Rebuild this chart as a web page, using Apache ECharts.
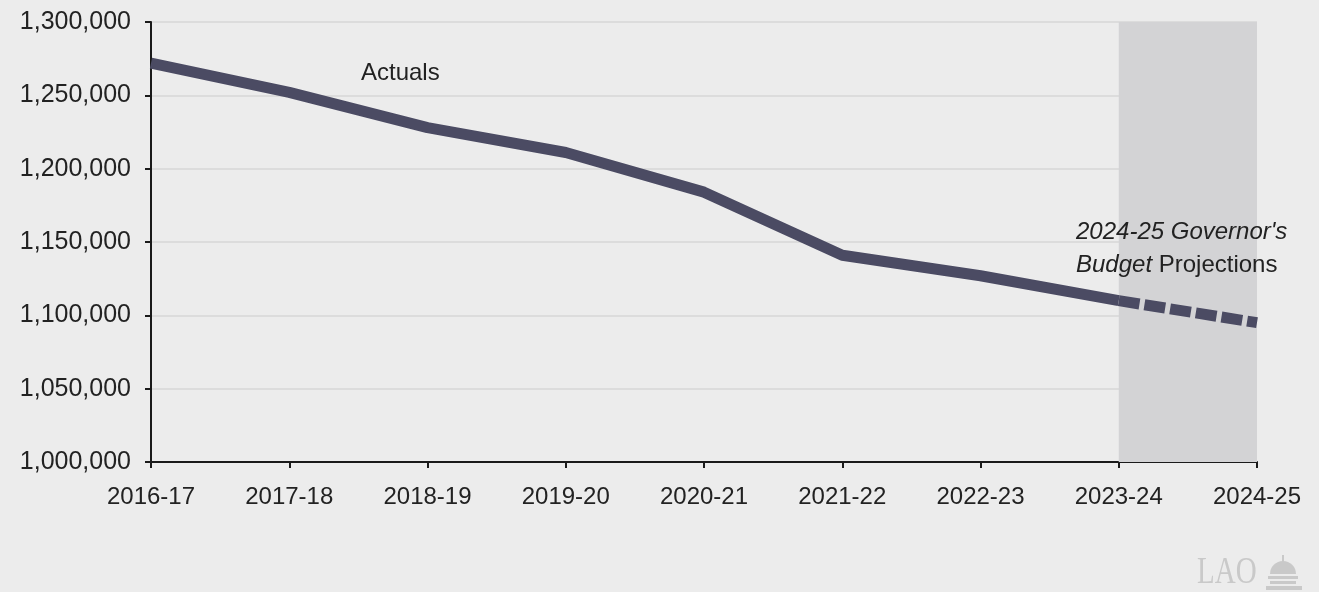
<!DOCTYPE html>
<html>
<head>
<meta charset="utf-8">
<script src="https://cdn.jsdelivr.net/npm/echarts@6/dist/echarts.min.js"></script>
<style>
  html, body { margin: 0; padding: 0; background: #ececec; }
  #main { width: 1319px; height: 592px; }
</style>
</head>
<body>
<div id="main"></div>
<script>
// school years
var years = ['2016-17', '2017-18', '2018-19', '2019-20', '2020-21', '2021-22', '2022-23', '2023-24', '2024-25'];
// enrollment, actuals then governor's budget projection
var actuals = [1272000, 1252000, 1228000, 1211000, 1184000, 1141000, 1127000, 1110000, null];
var projected = [null, null, null, null, null, null, null, 1110000, 1095000];
var yTicks = [1000000, 1050000, 1100000, 1150000, 1200000, 1250000, 1300000];

var chart = echarts.init(document.getElementById('main'));
var fontFam = '"Liberation Sans", Arial, sans-serif';
var lineColor = '#4b4b63';
var logoGray = '#c9c9c9';

var option = {
  backgroundColor: '#ececec',
  animation: false,
  grid: { left: 151, right: 62, top: 22, bottom: 130 },
  xAxis: {
    type: 'category',
    data: years,
    boundaryGap: false,
    axisLine: { lineStyle: { color: '#1a1a1a', width: 2 } },
    axisTick: { show: true, length: 6, lineStyle: { color: '#1a1a1a', width: 2 } },
    axisLabel: { color: '#222', fontSize: 24, fontFamily: fontFam, margin: 23 },
    splitLine: { show: false }
  },
  yAxis: {
    type: 'value',
    min: yTicks[0],
    max: yTicks[yTicks.length - 1],
    interval: 50000,
    axisLine: { show: true, lineStyle: { color: '#1a1a1a', width: 2 } },
    axisTick: { show: true, length: 6, lineStyle: { color: '#1a1a1a', width: 2 } },
    axisLabel: {
      color: '#222', fontSize: 25, fontFamily: fontFam, margin: 20,
      formatter: function (v) { return v.toLocaleString('en-US'); }
    },
    splitLine: { show: true, lineStyle: { color: '#dcdcdc', width: 2 } }
  },
  series: [
    {
      name: 'Actuals',
      type: 'line',
      data: actuals,
      symbol: 'none',
      z: 3,
      lineStyle: { color: lineColor, width: 11, cap: 'butt', join: 'round' }
    },
    {
      name: 'Projections',
      type: 'line',
      data: projected,
      symbol: 'none',
      z: 3,
      lineStyle: { color: lineColor, width: 11, type: [21, 5], cap: 'butt' },
      markArea: {
        silent: true,
        itemStyle: { color: '#d3d3d5', opacity: 1 },
        data: [[{ xAxis: '2023-24' }, { xAxis: '2024-25' }]]
      }
    }
  ],
  graphic: [
    {
      type: 'text', left: 361, top: 61, z: 20,
      style: { text: 'Actuals', fill: '#222', font: '24px ' + fontFam }
    },
    {
      type: 'text', left: 1076, top: 220, z: 20,
      style: {
        text: '{i|2024-25 Governor\'s}\n{i|Budget }{n|Projections}',
        rich: {
          i: { fontStyle: 'italic', fontSize: 24, fontFamily: fontFam, fill: '#222', lineHeight: 33 },
          n: { fontSize: 24, fontFamily: fontFam, fill: '#222', lineHeight: 33 }
        }
      }
    },
    {
      type: 'text', x: 1197, y: 554, z: 20, scaleY: 1.3,
      style: { text: 'LAO', fill: logoGray, font: '29px "Liberation Serif", serif' }
    },
    // small capitol dome next to the logo letters
    {
      type: 'group', x: 1264, y: 555, z: 20,
      children: [
        { type: 'rect', shape: { x: 18, y: 0, width: 2, height: 7 }, style: { fill: logoGray } },
        { type: 'sector', shape: { cx: 19, cy: 19, r: 13, startAngle: Math.PI, endAngle: 2 * Math.PI }, style: { fill: logoGray } },
        { type: 'rect', shape: { x: 4, y: 21, width: 30, height: 3 }, style: { fill: logoGray } },
        { type: 'rect', shape: { x: 6, y: 26, width: 26, height: 3 }, style: { fill: logoGray } },
        { type: 'rect', shape: { x: 2, y: 31, width: 36, height: 4 }, style: { fill: logoGray } }
      ]
    }
  ]
};
chart.setOption(option);
</script>
</body>
</html>
